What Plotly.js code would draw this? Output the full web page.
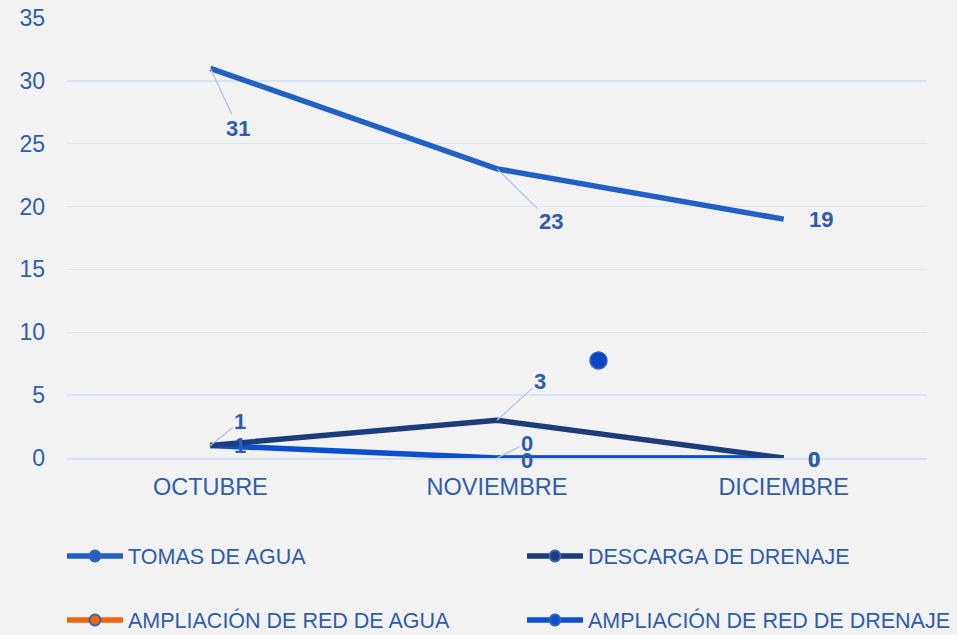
<!DOCTYPE html>
<html><head><meta charset="utf-8">
<script src="https://cdn.plot.ly/plotly-3.0.1.min.js"></script>
<style>html,body{margin:0;padding:0;background:#f2f2f2}#c{width:957px;height:635px}</style>
</head><body><div id="c"></div>
<script>
const months = ["OCTUBRE", "NOVIEMBRE", "DICIEMBRE"];
const tomasAgua = [31, 23, 19];
const descargaDrenaje = [1, 3, 0];
const ampRedAgua = [null, 0, 0];
const ampRedDrenaje = [1, 0, 0];
const seriesNames = ["TOMAS DE AGUA", "DESCARGA DE DRENAJE", "AMPLIACIÓN DE RED DE AGUA", "AMPLIACIÓN DE RED DE DRENAJE"];
const yTicks = [0, 5, 10, 15, 20, 25, 30, 35];

const series = [tomasAgua, descargaDrenaje, ampRedAgua, ampRedDrenaje];
const colors = ["#2160c4", "#1b3d7c", "#f0650e", "#0a4fd1"];
const legendIds = ["legend", "legend2", "legend3", "legend4"];
// legend positions in container px: [left, centerY]
const legendPos = [[62, 556], [522, 556], [62, 620], [522, 620]];
// label offsets (px) per series per category: [ax, ay, leader]
const labelOffsets = [
  [[28, 60, true], [54, 53, true], [37, 0, false]],
  [[30, -24, true], [43, -39, true], [30, 1, false]],
  [null, [30, -15, true], [30, 1, false]],
  [[30, 0, false], [30, 2, false], [30, 1, false]]
];
const W = 957, H = 635;
const FONT = "Liberation Sans, Arial, sans-serif";
const TXT = "#2e5cb0";

const traces = [];
[2, 3, 1, 0].forEach(i => {
  traces.push({
    x: months, y: series[i], type: "scatter", mode: "lines",
    line: {color: colors[i], width: 5.5}, showlegend: false, hoverinfo: "skip", cliponaxis: false
  });
});
for (let i = 0; i < 4; i++) {
  traces.push({
    x: [null], y: [null], type: "scatter", mode: "lines+markers", name: seriesNames[i],
    legend: legendIds[i],
    line: {color: colors[i], width: 5.5},
    marker: {color: colors[i], size: 11, line: {color: "#3563b8", width: 2}}
  });
}

const annotations = [];
series.forEach((vals, si) => {
  vals.forEach((v, ci) => {
    if (v === null || !labelOffsets[si][ci]) return;
    const o = labelOffsets[si][ci];
    annotations.push({
      x: months[ci], y: v, xref: "x", yref: "y", text: "<b>" + v + "</b>",
      showarrow: true, arrowhead: 0, arrowwidth: 1.2,
      arrowcolor: o[2] ? "#a8c3ec" : "rgba(0,0,0,0)",
      ax: o[0], ay: o[1], standoff: 0,
      font: {family: FONT, size: 22, color: TXT}
    });
  });
});

const layout = {
  width: W, height: H,
  paper_bgcolor: "#f2f2f2", plot_bgcolor: "#f2f2f2",
  margin: {l: 67, r: 30, t: 18, b: 177, autoexpand: false},
  font: {family: FONT, color: TXT},
  xaxis: {
    type: "category", range: [-0.5, 2.5], showgrid: false, zeroline: false,
    showline: true, linecolor: "#d6e0f2", linewidth: 1.5,
    tickfont: {size: 23.5, color: TXT}, ticks: "", ticklabelstandoff: 7, fixedrange: true
  },
  yaxis: {
    range: [0, 35], tickvals: yTicks, ticktext: yTicks.map(String),
    showgrid: true, gridcolor: "#d9e3f4", gridwidth: 1.5, zeroline: false, showline: false,
    tickfont: {size: 23, color: TXT}, ticks: "", ticklabelstandoff: 21, fixedrange: true
  },
  annotations: annotations,
  shapes: [{
    type: "circle", xref: "paper", yref: "paper",
    x0: (590 - 67) / 860, x1: (607 - 67) / 860, y0: (458 - 369) / 440, y1: (458 - 352) / 440,
    fillcolor: "#0b47c2", line: {color: "#2f62c0", width: 1.5}
  }],
  showlegend: true
};
legendIds.forEach((id, i) => {
  layout[id] = {
    orientation: "h", xref: "container", yref: "container",
    x: legendPos[i][0] / W, xanchor: "left", y: 1 - legendPos[i][1] / H, yanchor: "middle",
    bgcolor: "rgba(0,0,0,0)", font: {size: 21.5, color: TXT}, itemwidth: 56
  };
});
Plotly.newPlot("c", traces, layout, {displayModeBar: false, staticPlot: true});
</script></body></html>
